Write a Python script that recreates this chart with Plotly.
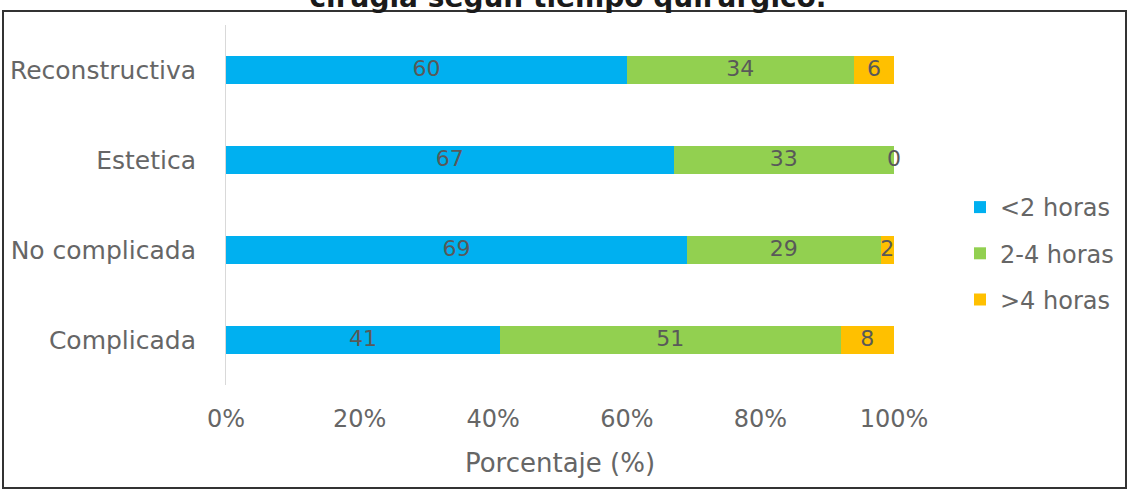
import plotly.graph_objects as go

categories = ["Reconstructiva", "Estetica", "No complicada", "Complicada"]
series_names = ["<2 horas", "2-4 horas", ">4 horas"]
menos_2 = [60, 67, 69, 41]
de_2_a_4 = [34, 33, 29, 51]
mas_4 = [6, 0, 2, 8]
x_ticks = [0, 20, 40, 60, 80, 100]
x_tick_labels = ["0%", "20%", "40%", "60%", "80%", "100%"]
title_text = "cirugía según tiempo quirúrgico."
x_title = "Porcentaje (%)"

series_values = [menos_2, de_2_a_4, mas_4]
colors = ["#00B0F0", "#92D050", "#FFC000"]

W, H = 1130, 491
L, R, T, B = 226, 894, 25, 385

FONT = "DejaVu Sans"
fig = go.Figure()

for name, vals, col in zip(series_names, series_values, colors):
    fig.add_trace(go.Bar(
        y=categories, x=vals, name=name, orientation="h",
        marker=dict(color=col, line=dict(width=0)),
        legendgroup=name, hoverinfo="skip",
    ))

# data labels centred on each segment
cum = [0] * len(categories)
for vals in series_values:
    mids = [c + v / 2 for c, v in zip(cum, vals)]
    fig.add_trace(go.Scatter(
        x=mids, y=categories, mode="text", text=[str(v) for v in vals],
        textposition="middle center",
        textfont=dict(family=FONT, size=22, color="#595959"),
        showlegend=False, hoverinfo="skip", cliponaxis=False,
    ))
    cum = [c + v for c, v in zip(cum, vals)]

def px_x(p):
    return (p - L) / (R - L)

def px_y(p):
    return (B - p) / (B - T)

fig.add_shape(type="rect", xref="paper", yref="paper",
              x0=px_x(3), x1=px_x(1126), y0=px_y(488), y1=px_y(11),
              line=dict(color="#333333", width=2), fillcolor="rgba(0,0,0,0)",
              layer="below")

fig.update_layout(
    width=W, height=H, autosize=False,
    margin=dict(l=L, r=W - R, t=T, b=H - B, pad=0),
    paper_bgcolor="white", plot_bgcolor="white",
    barmode="stack", bargap=0.69,
    font=dict(family=FONT, color="#666666"),
    title=dict(text="<b>" + title_text + "</b>", x=568 / W, xanchor="center",
               y=1 - 7 / H, yref="container", yanchor="bottom",
               font=dict(family=FONT, size=28, color="#1a1a1a")),
    showlegend=True,
    legend=dict(xref="container", yref="container",
                x=960 / W, xanchor="left", y=1 - 253.5 / H, yanchor="middle",
                traceorder="grouped", tracegroupgap=12,
                font=dict(family=FONT, size=24, color="#666666"),
                bgcolor="rgba(0,0,0,0)"),
    xaxis=dict(range=[0, 100], tickvals=x_ticks, ticktext=x_tick_labels,
               showgrid=False, zeroline=False, showline=False,
               automargin=False,
               ticks="outside", ticklen=12, tickcolor="rgba(0,0,0,0)",
               tickfont=dict(family=FONT, size=24, color="#666666"),
               title=dict(text=x_title, standoff=22,
                          font=dict(family=FONT, size=26, color="#666666"))),
    yaxis=dict(autorange="reversed", showgrid=False, zeroline=False,
               showline=True, linecolor="#d9d9d9", linewidth=1,
               automargin=False,
               ticks="outside", ticklen=24, tickcolor="rgba(0,0,0,0)",
               tickfont=dict(family=FONT, size=25, color="#666666")),
)

fig.write_html("out.html", config={"displayModeBar": False},
               post_script="document.body.style.margin='0';")
